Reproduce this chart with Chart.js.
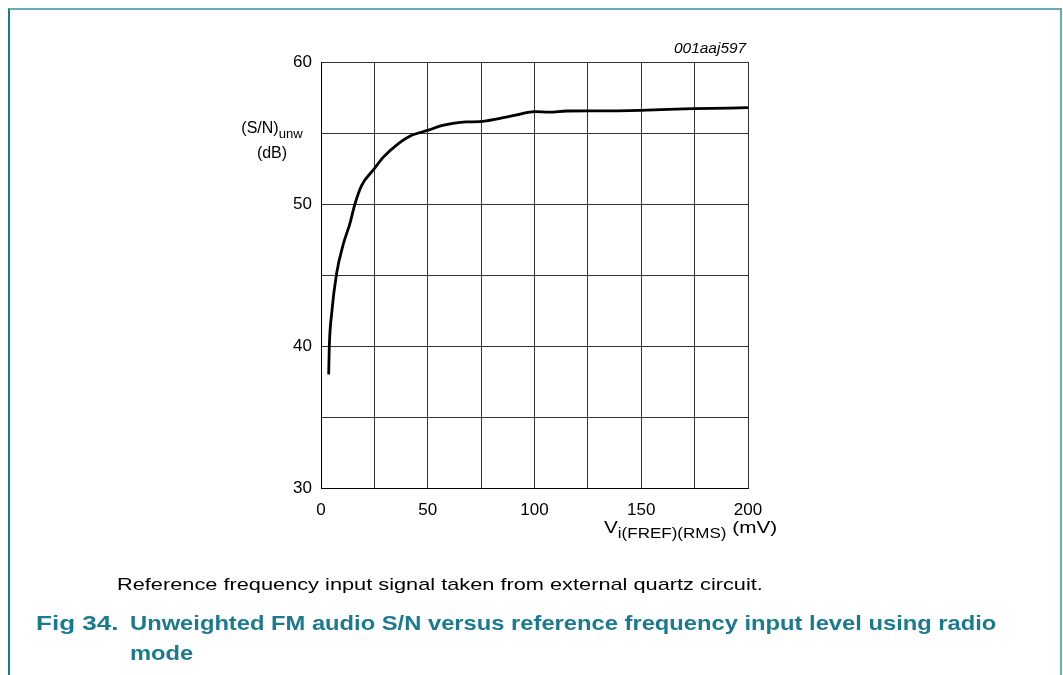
<!DOCTYPE html>
<html lang="en">
<head>
    <meta charset="UTF-8">
    <title>Fig 34</title>
    <script src="https://cdn.jsdelivr.net/npm/chart.js"></script>
    <style>
        body { margin: 0; font-family: "Liberation Sans", Arial, sans-serif; background: #fff; }
        #wrap { position: relative; width: 1063px; height: 675px; overflow: hidden; }
        #frame { position: absolute; left: 8px; top: 8px; width: 1054px; height: 700px;
                 border-top: 2px solid #6aaab8; border-left: 2px solid #1a7a8a; border-right: 2px solid #6aaab8; box-sizing: border-box; }
        canvas { position: absolute; left: 0; top: 0; }
        .txt { position: absolute; white-space: nowrap; color: #000; transform-origin: 0 0; }
        sub { font-size: 82%; vertical-align: -5px; }
        .fig { color: #1a7a8f; font-weight: bold; font-size: 21px; line-height: 30px; }
    </style>
</head>
<body>
<div id="wrap">
    <div id="frame"></div>
    <canvas id="snChart" width="1063" height="675"></canvas>
    <div class="txt" style="left:674px; top:39px; font-size:15px; font-style:italic; transform:scaleX(1.03);">001aaj597</div>
    <div class="txt" style="left:230px; top:118px; font-size:16px; text-align:center; width:84px; line-height:19px;">(S/N)<sub>unw</sub><br>(dB)</div>
    <div class="txt" style="left:604px; top:518px; font-size:17px; transform:scaleX(1.22);">V<sub>i(FREF)(RMS)</sub> (mV)</div>
    <div class="txt" style="left:117px; top:575px; font-size:17px; transform:scaleX(1.28);">Reference frequency input signal taken from external quartz circuit.</div>
    <div class="txt fig" style="left:36px; top:608px; transform:scaleX(1.24);">Fig 34.</div>
    <div class="txt fig" style="left:130px; top:608px; transform:scaleX(1.13);">Unweighted FM audio S/N versus reference frequency input level using radio<br>mode</div>
</div>
<script>
    // input level (mV) and unweighted S/N (dB)
    const inputLevel = [3.6, 3.9, 5.0, 7.3, 10.5, 13.5, 15.9, 19, 24.5, 29.2, 35.4, 42, 50.3, 56, 61.8, 68, 74.5, 83.8, 91.7, 97, 100, 107, 115, 130, 149.4, 174.4, 200];
    const snUnw      = [38.0, 40.0, 42.3, 45.1, 47.2, 48.6, 50.0, 51.3, 52.4, 53.3, 54.15, 54.8, 55.2, 55.5, 55.68, 55.78, 55.8, 56.03, 56.27, 56.45, 56.5, 56.47, 56.55, 56.56, 56.6, 56.71, 56.78];
    const xTicks = [0, 50, 100, 150, 200];
    const yTicks = [30, 40, 50, 60];

    const points = inputLevel.map((v, i) => ({ x: v, y: snUnw[i] }));

    new Chart(document.getElementById('snChart'), {
        type: 'line',
        data: {
            datasets: [{
                data: points,
                borderColor: '#000',
                borderWidth: 2.8,
                pointRadius: 0,
                fill: false,
                cubicInterpolationMode: 'monotone'
            }]
        },
        options: {
            responsive: false,
            animation: false,
            events: [],
            layout: { padding: { left: 271, right: 315, top: 62, bottom: 157 } },
            plugins: { legend: { display: false }, tooltip: { enabled: false } },
            scales: {
                x: {
                    type: 'linear', min: 0, max: 200,
                    afterFit: s => { s.height = 30; },
                    afterBuildTicks: s => { s.ticks = []; for (let v = 0; v <= 200; v += 25) s.ticks.push({ value: v }); },
                    ticks: {
                        color: '#000', font: { family: 'Liberation Sans', size: 17 }, padding: 12, maxRotation: 0,
                        callback: v => xTicks.includes(v) ? String(v) : ''
                    },
                    grid: { color: '#333', lineWidth: 1, drawTicks: false },
                    border: { color: '#000', width: 1 }
                },
                y: {
                    type: 'linear', min: 30, max: 60,
                    afterFit: s => { s.width = 50; },
                    afterBuildTicks: s => { s.ticks = []; for (let v = 30; v <= 60; v += 5) s.ticks.push({ value: v }); },
                    ticks: {
                        color: '#000', font: { family: 'Liberation Sans', size: 17 }, padding: 9,
                        callback: v => yTicks.includes(v) ? String(v) : ''
                    },
                    grid: { color: '#333', lineWidth: 1, drawTicks: false },
                    border: { color: '#000', width: 1 }
                }
            }
        }
    });
</script>
</body>
</html>
